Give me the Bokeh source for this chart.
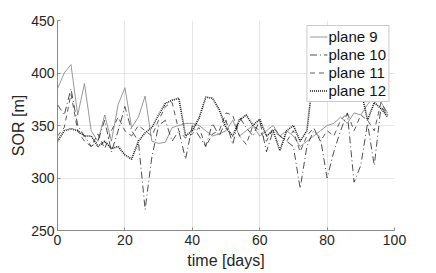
from bokeh.plotting import figure
from bokeh.models import Legend, LegendItem, FixedTicker, Range1d
from bokeh.embed import file_html
from bokeh.resources import INLINE

days = [0, 2, 4, 6, 8, 10, 12, 14, 16, 18, 20, 22, 24, 26, 28, 30, 32, 34, 36, 38,
        40, 42, 44, 46, 48, 50, 52, 54, 56, 58, 60, 62, 64, 66, 68, 70, 72, 74, 76, 78,
        80, 82, 84, 86, 88, 90, 92, 94, 96, 98]
plane9 = [385, 400, 408, 360, 390, 345, 335, 360, 335, 370, 386, 348, 358, 378, 335, 333, 334, 348, 350, 352,
          352, 350, 345, 340, 342, 345, 355, 340, 345, 350, 340, 345, 350, 340, 345, 340, 330, 335, 340, 345,
          350, 352, 358, 352, 362, 360, 370, 378, 372, 362]
plane10 = [370, 360, 385, 350, 340, 330, 335, 355, 325, 345, 368, 345, 335, 270, 320, 350, 355, 335, 345, 318,
           350, 340, 330, 352, 340, 355, 332, 358, 348, 340, 355, 325, 345, 340, 335, 330, 290, 330, 345, 338,
           300, 325, 345, 362, 296, 312, 352, 312, 368, 360]
plane11 = [340, 348, 380, 345, 335, 330, 342, 328, 345, 358, 345, 340, 350, 345, 340, 355, 368, 372, 345, 338,
           342, 348, 330, 342, 345, 362, 360, 340, 332, 350, 345, 335, 348, 340, 335, 345, 325, 340, 348, 335,
           345, 340, 355, 362, 345, 360, 355, 345, 372, 360]
plane12 = [335, 345, 347, 345, 340, 340, 330, 335, 328, 330, 322, 318, 335, 343, 348, 360, 371, 374, 376, 340,
           345, 357, 377, 376, 365, 348, 340, 355, 360, 350, 356, 340, 345, 326, 345, 350, 335, 345, 400, 420,
           410, 400, 415, 405, 395, 385, 355, 372, 366, 358]
x_ticks = [0, 20, 40, 60, 80, 100]
y_ticks = [250, 300, 350, 400, 450]

FONT = "Liberation Sans"
p = figure(width=436, height=273, output_backend="svg", toolbar_location=None,
           x_range=Range1d(0, 100), y_range=Range1d(250, 450),
           min_border_left=57, min_border_right=42, min_border_top=20, min_border_bottom=43)
p.outline_line_color = None
p.background_fill_color = "white"

r9 = p.line(days, plane9, line_color="#7f7f7f", line_width=0.8)
r10 = p.line(days, plane10, line_color="#222222", line_width=0.8, line_dash="7 3 1 3")
r11 = p.line(days, plane11, line_color="#333333", line_width=0.8, line_dash="5 4")
r12 = p.line(days, plane12, line_color="#111111", line_width=1.6, line_dash="1 1")

for ax, ticks in ((p.xaxis, x_ticks), (p.yaxis, y_ticks)):
    ax.ticker = FixedTicker(ticks=ticks)
    ax.axis_line_color = "#8a8a8a"
    ax.major_tick_line_color = "#8a8a8a"
    ax.major_tick_in = 3
    ax.major_tick_out = 0
    ax.minor_tick_line_color = None
    ax.major_label_text_font = FONT
    ax.major_label_text_font_size = "14px"
    ax.major_label_text_color = "#262626"
    ax.axis_label_text_font = FONT
    ax.axis_label_text_font_size = "16px"
    ax.axis_label_text_font_style = "normal"
    ax.axis_label_text_color = "#262626"

p.xaxis.axis_label = "time [days]"
p.yaxis.axis_label = "SOR [m]"
p.xaxis.major_label_standoff = 4
p.yaxis.major_label_standoff = 3
p.xaxis.axis_label_standoff = 4
p.yaxis.axis_label_standoff = 1

p.xgrid.grid_line_color = "#e6e6e6"
p.ygrid.grid_line_color = "#e6e6e6"

legend = Legend(items=[LegendItem(label="plane 9", renderers=[r9]),
                       LegendItem(label="plane 10", renderers=[r10]),
                       LegendItem(label="plane 11", renderers=[r11]),
                       LegendItem(label="plane 12", renderers=[r12])],
                location="top_right")
legend.label_text_font = FONT
legend.label_text_font_size = "15px"
legend.label_text_color = "#111111"
legend.glyph_width = 18
legend.glyph_height = 17
legend.label_height = 17
legend.spacing = 1
legend.padding = 2
legend.margin = 5
legend.label_standoff = 1
legend.border_line_color = "#9a9a9a"
legend.border_line_width = 1
legend.background_fill_alpha = 1.0
p.add_layout(legend)

open("out.html", "w").write(file_html(p, INLINE))
